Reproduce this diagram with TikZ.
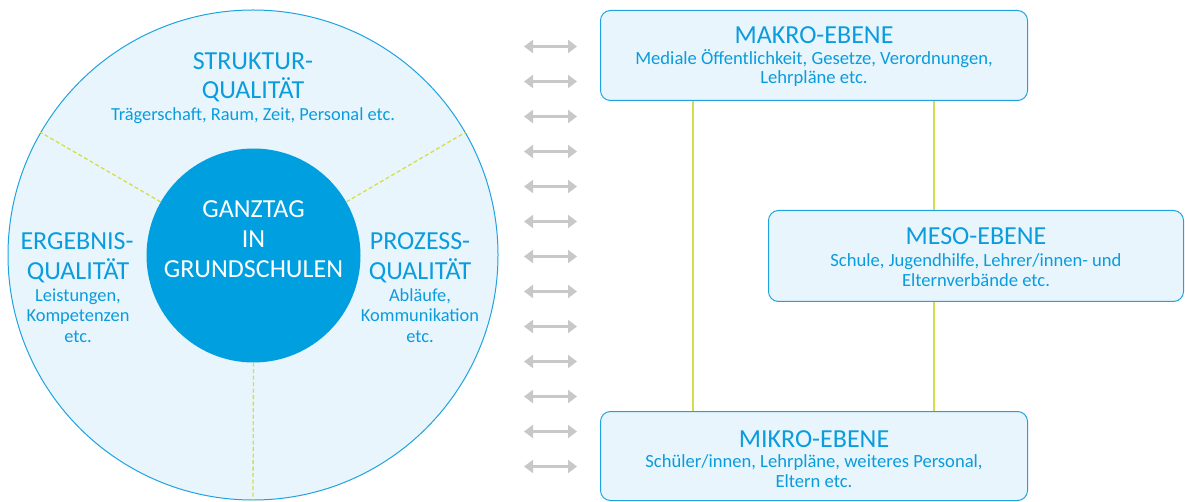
\documentclass[tikz,border=0pt]{standalone}
\usepackage{fontspec}
\setmainfont{Carlito}
\usetikzlibrary{arrows.meta,calc}
\definecolor{tblue}{HTML}{0A9CDC}
\definecolor{cfill}{HTML}{009FE0}
\definecolor{lfill}{HTML}{E8F5FD}
\definecolor{bline}{HTML}{1EA3E0}
\definecolor{yline}{HTML}{D4DE4C}
\definecolor{agrey}{HTML}{C8C8C8}
\begin{document}
\begin{tikzpicture}[x=1pt,y=-1pt,
  big/.style={font=\fontsize{26}{28}\selectfont,text=tblue,anchor=base,inner sep=0pt},
  small/.style={font=\fontsize{18.4}{20}\selectfont,text=tblue,anchor=base,inner sep=0pt},
  bsmall/.style={font=\fontsize{18.6}{20}\selectfont,text=tblue,anchor=base,inner sep=0pt},
  white/.style={font=\fontsize{26}{28}\selectfont,text=white,anchor=base,inner sep=0pt},
  level/.style={draw=bline,line width=1pt,fill=lfill,rounded corners=10pt,anchor=north west,inner sep=0pt},
  sep/.style={draw=yline,line width=1.3pt,dash pattern=on 4pt off 2.5pt},
  vline/.style={draw=yline,line width=1.3pt},
  darrow/.style={draw=agrey,line width=3pt,{Triangle[width=13pt,length=9pt]}-{Triangle[width=13pt,length=9pt]}}
]
\useasboundingbox (0,0) rectangle (1185,502);
% circles
\node[circle,draw=bline,line width=1pt,fill=lfill,minimum size=490pt,inner sep=0pt] (outer) at (253,255) {};
\node[circle,fill=cfill,minimum size=214pt,inner sep=0pt] (inner) at (253.5,255.5) {};
\draw[sep] (inner.30) -- (outer.30);
\draw[sep] (inner.150) -- (outer.150);
\draw[sep] (inner.270) -- (outer.270);
% Struktur
\node[big] (s1) at (253,70) {STRUKTUR-};
\node[big] (s2) at (253,99) {QUALITÄT};
\node[small] (s3) at (253,121) {Trägerschaft, Raum, Zeit, Personal etc.};
% center
\node[white] (c1) at (253.5,218) {GANZTAG};
\node[white] (c2) at (253.5,248) {IN};
\node[white] (c3) at (253.5,278) {GRUNDSCHULEN};
% Ergebnis
\node[big] (e1) at (77,250) {ERGEBNIS-};
\node[big] (e2) at (78,280) {QUALITÄT};
\node[small] (e3) at (78,302) {Leistungen,};
\node[small] (e4) at (78,322) {Kompetenzen};
\node[small] (e5) at (78,342) {etc.};
% Prozess
\node[big] (p1) at (420,250) {PROZESS-};
\node[big] (p2) at (420,280) {QUALITÄT};
\node[small] (p3) at (420,302) {Abläufe,};
\node[small] (p4) at (420,322) {Kommunikation};
\node[small] (p5) at (420,342) {etc.};
% arrows
\foreach \k in {0,...,12}{
  \coordinate (al\k) at (524,46.5+35*\k);
  \coordinate (ar\k) at (577,46.5+35*\k);
  \draw[darrow] (al\k) -- (ar\k);
}
% level boxes
\node[level,minimum width=427pt,minimum height=90pt] (makro) at (600,10) {};
\node[level,minimum width=415pt,minimum height=91pt] (meso) at (768,210) {};
\node[level,minimum width=427pt,minimum height=89pt] (mikro) at (600,411) {};
% connectors
\draw[vline] ([xshift=93pt]makro.south west) -- ([xshift=93pt]mikro.north west);
\draw[vline] ([xshift=334pt]makro.south west) -- ([xshift=166pt]meso.north west);
\draw[vline] ([xshift=166pt]meso.south west) -- ([xshift=334pt]mikro.north west);
% box texts
\node[big] (m1) at ($(makro.north)+(0,34)$) {MAKRO-EBENE};
\node[bsmall] (m2) at ($(makro.north)+(0,55)$) {Mediale Öffentlichkeit, Gesetze, Verordnungen,};
\node[bsmall] (m3) at ($(makro.north)+(0,74)$) {Lehrpläne etc.};
\node[big] (n1) at ($(meso.north)+(0,35)$) {MESO-EBENE};
\node[bsmall] (n2) at ($(meso.north)+(0,57)$) {Schule, Jugendhilfe, Lehrer/innen- und};
\node[bsmall] (n3) at ($(meso.north)+(0,77)$) {Elternverbände etc.};
\node[big] (k1) at ($(mikro.north)+(0,36)$) {MIKRO-EBENE};
\node[bsmall] (k2) at ($(mikro.north)+(0,56)$) {Schüler/innen, Lehrpläne, weiteres Personal,};
\node[bsmall] (k3) at ($(mikro.north)+(0,76)$) {Eltern etc.};
\end{tikzpicture}
\end{document}
